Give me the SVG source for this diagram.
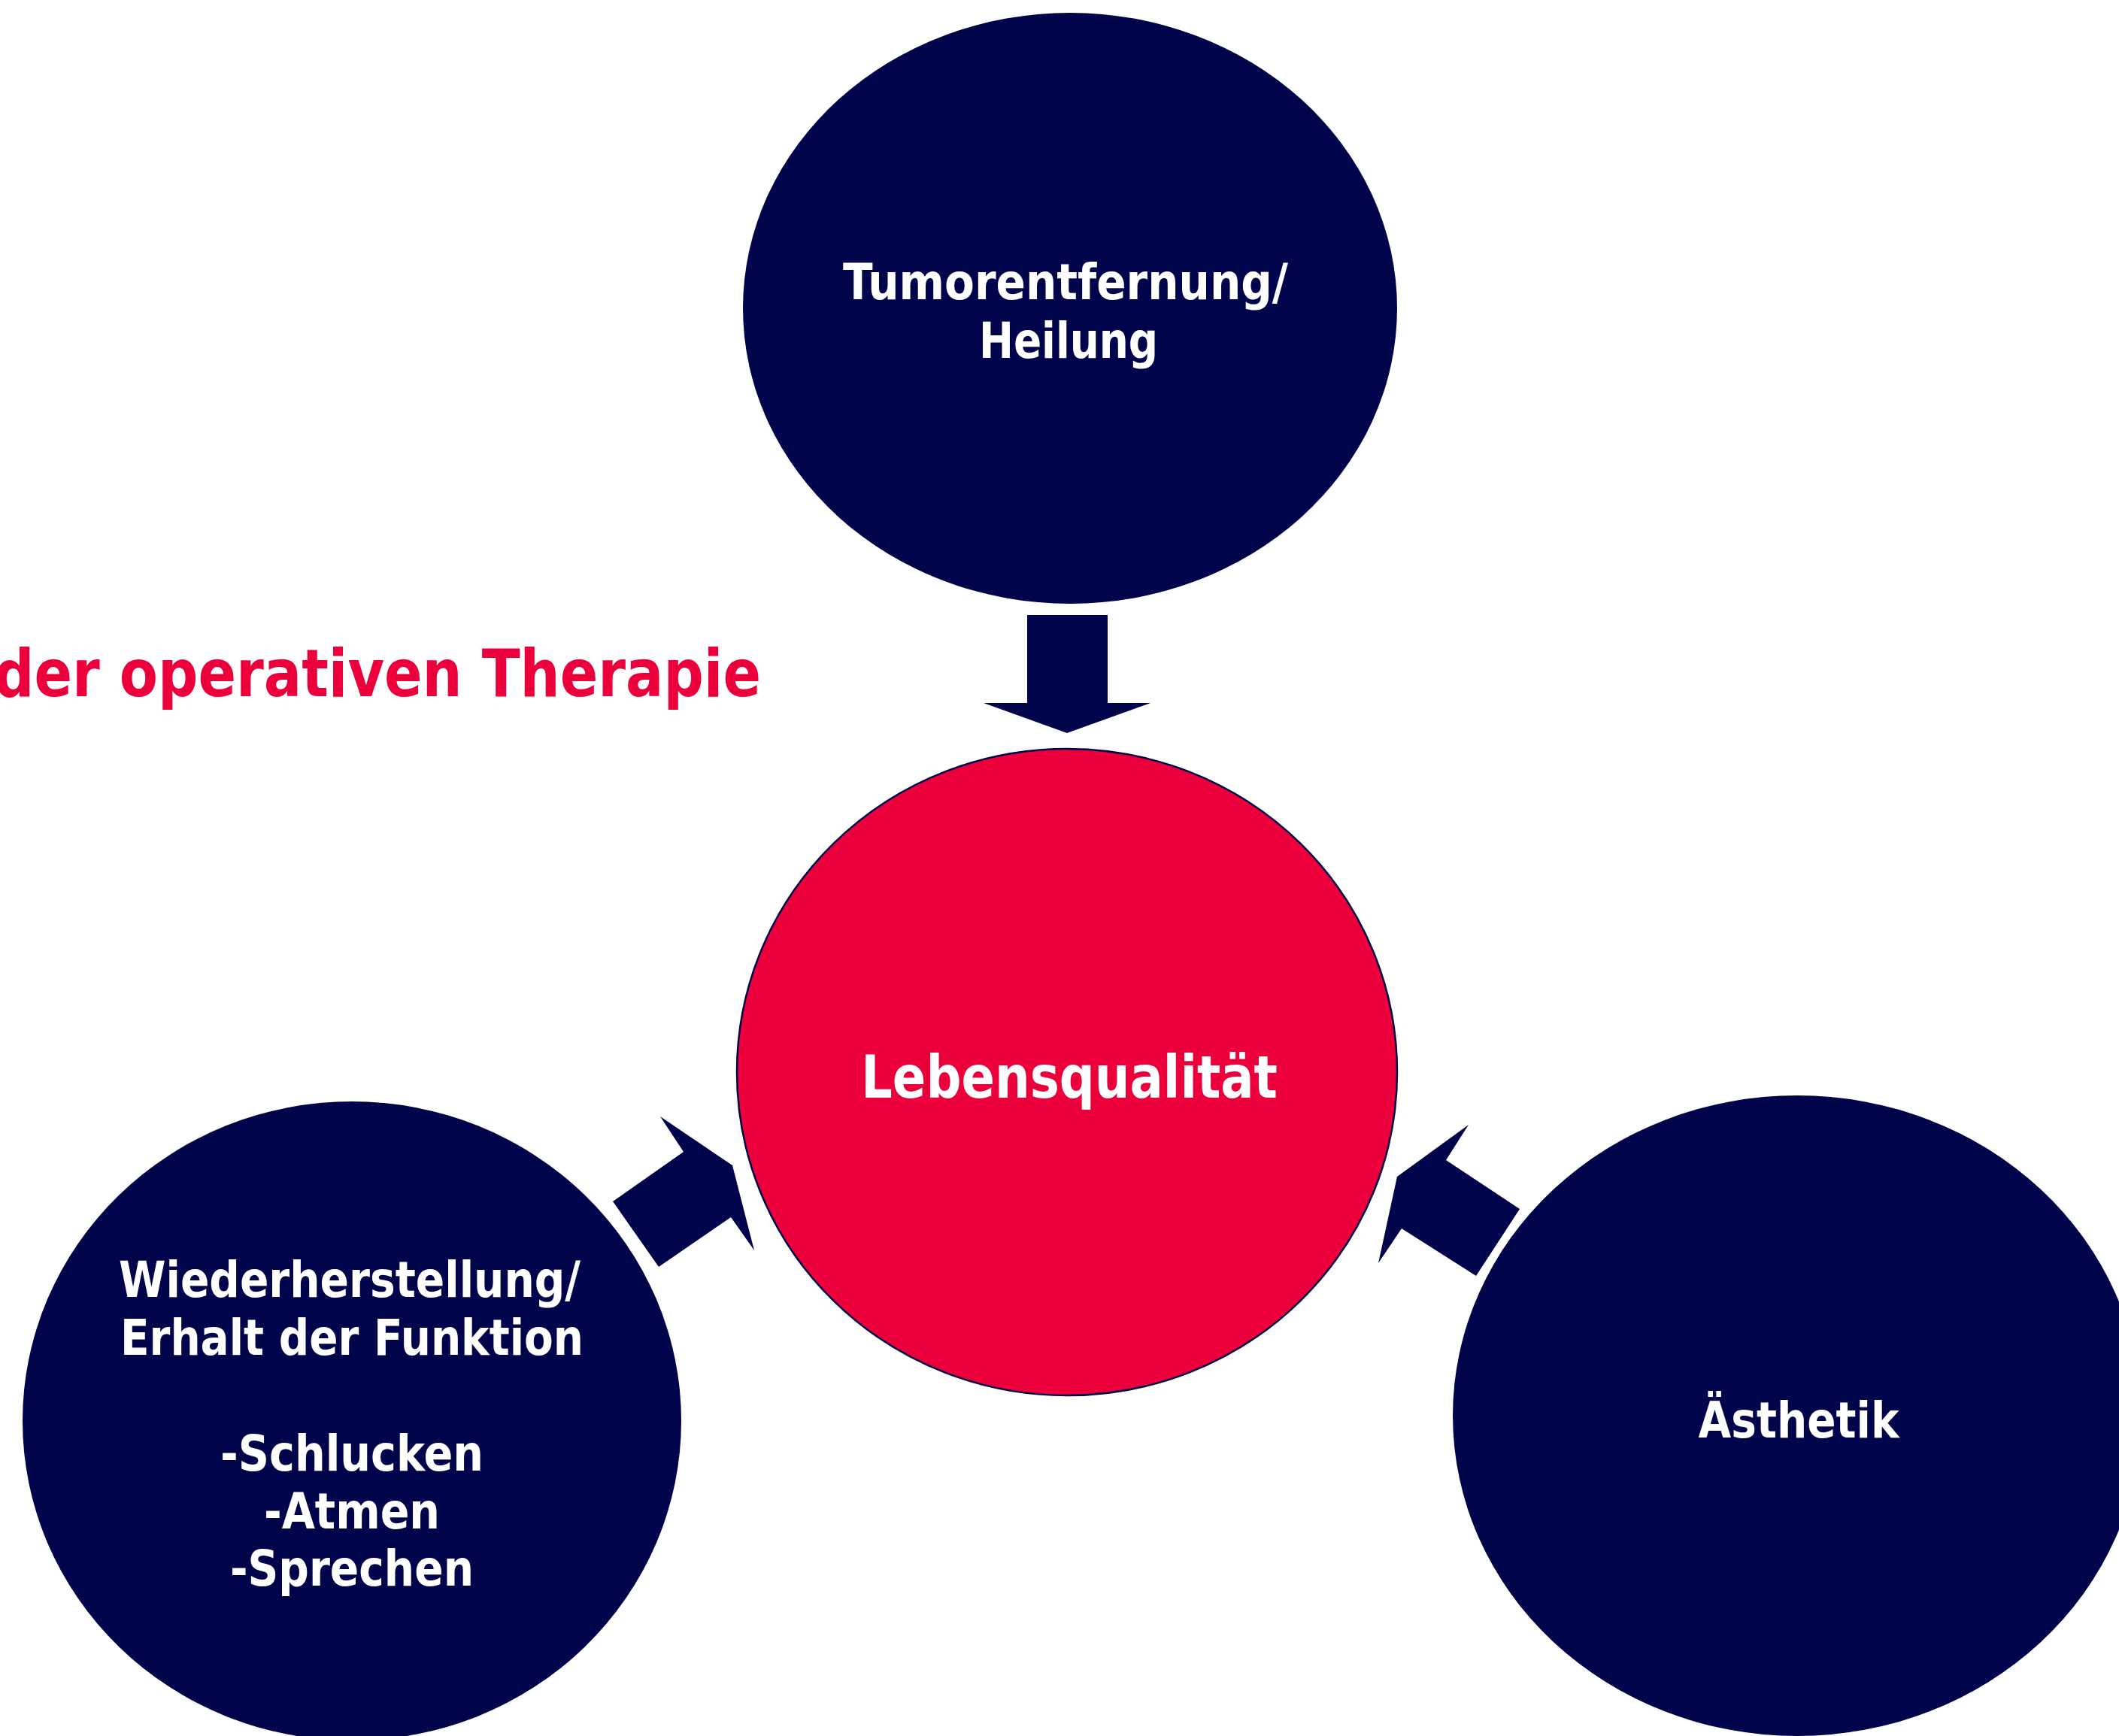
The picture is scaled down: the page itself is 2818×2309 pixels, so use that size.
<svg xmlns="http://www.w3.org/2000/svg" width="2818" height="2309" viewBox="0 0 2818 2309">
<style>
.node{fill:#00044A}
.core{fill:#EB003C;stroke:#00044A;stroke-width:2.5}
.arrow{fill:#00044A}
text{font-family:"DejaVu Sans","Liberation Sans",sans-serif;font-weight:bold;text-anchor:middle}
.w{fill:#FFFFFF;font-size:66px}
.wc{fill:#FFFFFF;font-size:78px}
.title{fill:#EB003C;font-size:87px;text-anchor:start}
</style>
<rect width="2818" height="2309" fill="#FFFFFF"/>
<text class="title" x="-8" y="926" textLength="1020" lengthAdjust="spacingAndGlyphs">der operativen Therapie</text>
<g id="node-tumor">
<ellipse class="node" cx="1423" cy="410" rx="435" ry="393"/>
<text class="w" x="1417" y="398" textLength="592" lengthAdjust="spacingAndGlyphs">Tumorentfernung/</text>
<text class="w" x="1421" y="476" textLength="238" lengthAdjust="spacingAndGlyphs">Heilung</text>
</g>
<g id="node-lebensqualitaet">
<ellipse class="core" cx="1419" cy="1426" rx="439" ry="430"/>
<text class="wc" x="1422" y="1460" textLength="554" lengthAdjust="spacingAndGlyphs">Lebensqualität</text>
</g>
<g id="node-funktion">
<ellipse class="node" cx="468" cy="1890" rx="438" ry="425"/>
<text class="w" x="465" y="1725" textLength="614" lengthAdjust="spacingAndGlyphs">Wiederherstellung/</text>
<text class="w" x="468" y="1802" textLength="616" lengthAdjust="spacingAndGlyphs">Erhalt der Funktion</text>
<text class="w" x="468" y="1956" textLength="350" lengthAdjust="spacingAndGlyphs">-Schlucken</text>
<text class="w" x="468" y="2033" textLength="234" lengthAdjust="spacingAndGlyphs">-Atmen</text>
<text class="w" x="468" y="2109" textLength="324" lengthAdjust="spacingAndGlyphs">-Sprechen</text>
</g>
<g id="node-aesthetik">
<ellipse class="node" cx="2390" cy="1883" rx="458" ry="426"/>
<text class="w" x="2392" y="1912" textLength="267" lengthAdjust="spacingAndGlyphs">Ästhetik</text>
</g>
<g id="connectors">
<path class="arrow" d="M1366,818 H1473 V935 H1530 L1419,975 L1308,935 H1366 Z"/>
<polygon class="arrow" points="878,1485 974,1550 1003,1663 972,1619 876,1685 815,1598 909,1532"/>
<polygon class="arrow" points="1953,1496 1858,1565 1833,1680 1864,1634 1963,1697 2021,1608 1923,1543"/>
</g>
</svg>
